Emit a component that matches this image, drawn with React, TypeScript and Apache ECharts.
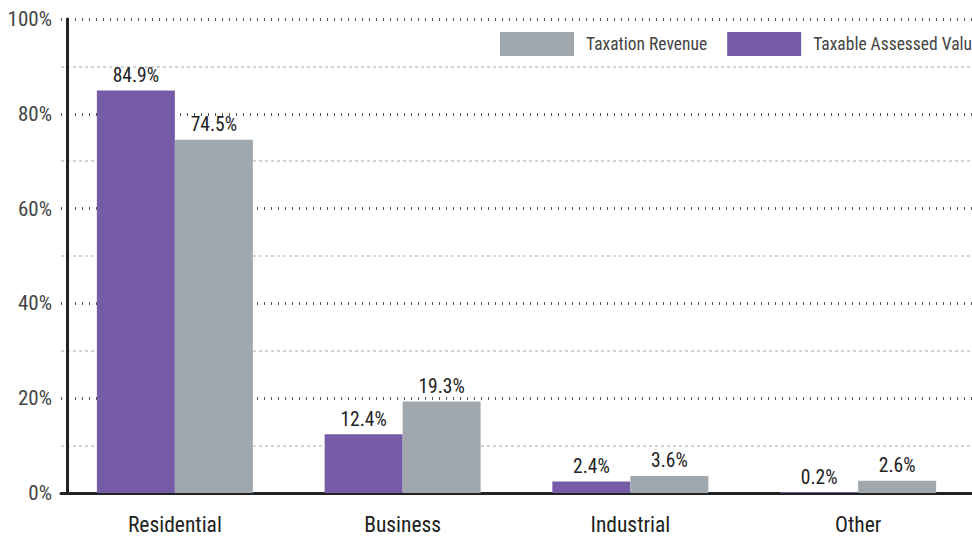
import React, { useEffect, useRef } from "react";
import * as echarts from "echarts";

const categories = ["Residential", "Business", "Industrial", "Other"];
const assessedValue = [84.9, 12.4, 2.4, 0.2];
const taxRevenue = [74.5, 19.3, 3.6, 2.6];
const seriesNames = ["Taxable Assessed Value", "Taxation Revenue"];
const legendOrder = ["Taxation Revenue", "Taxable Assessed Value"];

const FONT = "'Roboto Condensed', 'Liberation Sans Narrow', 'DejaVu Sans Condensed', 'Roboto', sans-serif";

export default function App() {
  const ref = useRef<HTMLDivElement>(null);
  useEffect(() => {
    if (!ref.current) return;
    const chart = echarts.init(ref.current, null, { renderer: "svg" });
    const label = {
      show: true,
      position: "top",
      distance: 5,
      fontFamily: FONT,
      fontSize: 19.5,
      color: "#222",
      formatter: (p: any) => p.value.toFixed(1) + "%",
    };
    chart.setOption({
      animation: false,
      textStyle: { fontFamily: FONT },
      legend: {
        data: legendOrder,
        left: 495,
        top: 27,
        width: 700,
        itemWidth: 74,
        itemHeight: 24,
        itemGap: 20,
        icon: "rect",
        textStyle: { fontFamily: FONT, fontSize: 17.5, color: "#444", padding: [0, 0, 0, 7] },
      },
      grid: { left: 61, top: 19, bottom: 44, right: -4, containLabel: false },
      xAxis: {
        type: "category",
        data: categories,
        axisLine: { lineStyle: { color: "#222", width: 3 } },
        axisTick: { show: false },
        axisLabel: { fontFamily: FONT, fontSize: 21.5, color: "#222", margin: 20 },
      },
      yAxis: {
        type: "value",
        min: 0,
        max: 100,
        interval: 20,
        offset: -6,
        axisLine: { show: true, lineStyle: { color: "#222", width: 3 } },
        axisTick: { show: false },
        axisLabel: {
          fontFamily: FONT,
          fontSize: 21,
          color: "#444",
          margin: 15,
          formatter: (v: number) => v + "%",
        },
        splitLine: { lineStyle: { color: "#555", width: 3, type: [1, 6] } },
        minorTick: { show: false, splitNumber: 2 },
        minorSplitLine: { show: true, lineStyle: { color: "#d4d4d4", width: 2, type: [3, 3] } },
      },
      series: [
        {
          name: seriesNames[0],
          type: "bar",
          data: assessedValue,
          itemStyle: { color: "#765BA7" },
          barGap: "0%",
          barWidth: 78,
          label,
        },
        {
          name: seriesNames[1],
          type: "bar",
          data: taxRevenue,
          itemStyle: { color: "#A0A8AD" },
          barGap: "0%",
          barWidth: 78,
          label,
        },
      ],
    });
    return () => chart.dispose();
  }, []);
  return <div ref={ref} style={{ width: 972, height: 537, position: "absolute", left: 0, top: 0 }} />;
}
